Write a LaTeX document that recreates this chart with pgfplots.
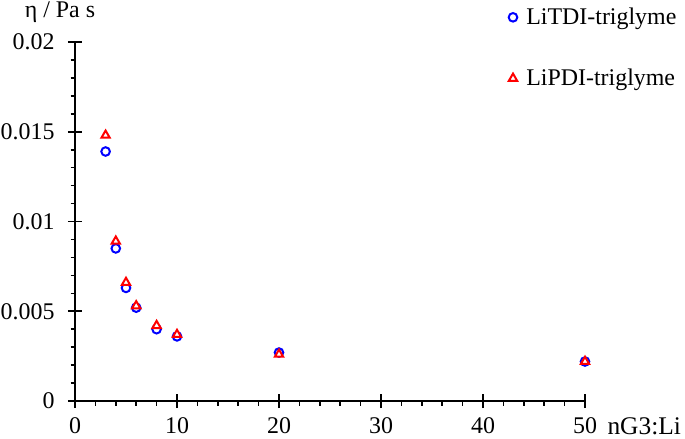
\documentclass[border=0pt]{standalone}
\usepackage{fontspec}
\setmainfont{Liberation Serif}
\usepackage{pgfplots}
\pgfplotsset{compat=1.18}
\begin{document}
\begin{tikzpicture}[x=1bp,y=1bp]
\path[use as bounding box] (0,0) rectangle (685,-439);
\begin{axis}[
  at={(75bp,-401bp)}, anchor=south west,
  scale only axis, width=510bp, height=359bp,
  xmin=0, xmax=50, ymin=0, ymax=0.02,
  enlargelimits=false, clip=false,
  axis lines=left,
  axis line style={-, line width=1.6bp, black},
  xtick={0,10,20,30,40,50},
  ytick={0,0.005,0.01,0.015,0.02},
  yticklabels={0,0.005,0.01,0.015,0.02},
  minor x tick num=4, minor y tick num=4,
  tick align=center,
  major tick length=14bp, minor tick length=5bp,
  every tick/.style={black, line width=1.6bp},
  minor x tick style={yshift=-2bp},
  minor y tick style={xshift=-2bp},
  tick label style={font=\fontsize{24}{28}\selectfont},
  yticklabel style={xshift=-10bp},
  xticklabel style={inner sep=0pt, text depth=0pt, yshift=-9bp},
  /pgf/number format/assume math mode=true,
  scaled y ticks=false,
  legend style={draw=none, fill=none, at={(rel axis cs:0.85,1.1)}, anchor=north west,
    font=\fontsize{24}{28}\selectfont, row sep=39bp, inner sep=0pt,
    nodes={inner xsep=9bp}},
  legend cell align=left,
  legend image code/.code={\draw[#1,mark repeat=2,mark phase=2] plot coordinates {(0bp,0bp)(6bp,0bp)(12bp,0bp)};},
]
\addplot[only marks, mark=o, mark size=4.3bp, mark options={draw=blue, fill=white, line width=2bp}]
  coordinates {(3,0.0139) (4,0.0085) (5,0.0063) (6,0.0052) (8,0.0040) (10,0.0036) (20,0.0027) (50,0.0022)};
\addlegendentry{LiTDI-triglyme}
\addplot[only marks, mark=triangle*, mark size=4.8bp, mark options={draw=red, fill=white, line width=2bp}]
  coordinates {(3,0.0148) (4,0.0089) (5,0.0066) (6,0.0053) (8,0.0042) (10,0.0037) (20,0.0026) (50,0.0022)};
\addlegendentry{LiPDI-triglyme}
\node[anchor=base west, font=\fontsize{25.5}{29}\selectfont] at (rel axis cs:1,0) [xshift=19bp, yshift=-33bp] {nG3:Li};
\node[anchor=center, font=\fontsize{24}{28}\selectfont] at (rel axis cs:0,1) [xshift=-15bp, yshift=30bp] {η / Pa s};
\end{axis}
\end{tikzpicture}
\end{document}
